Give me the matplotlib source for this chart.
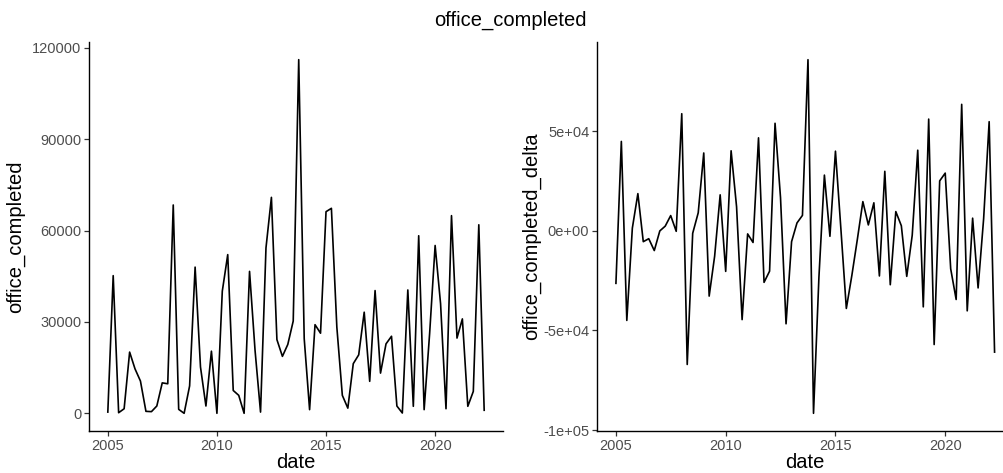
import numpy as np
import pandas as pd
import matplotlib
matplotlib.use('Agg')
import matplotlib.pyplot as plt
import matplotlib.dates as mdates

plt.rcParams['font.family'] = ['Liberation Sans', 'DejaVu Sans']

# quarterly completions, 2005 Q1 .. 2022 Q2
quarters = pd.date_range('2005-01-01', periods=70, freq='QS')

office_completed = [
    400, 45200, 200, 1500, 20100, 14600, 10600, 650, 550, 2400,
    10000, 9700, 68400, 1300, 0, 9000, 48000, 15200, 2400, 20400,
    0, 40100, 52100, 7500, 5900, 0, 46600, 20700, 400, 54300,
    70900, 24200, 18700, 22600, 30300, 116100, 24500, 1200, 29100, 26300,
    66200, 67300, 28300, 5900, 1700, 16300, 19200, 33200, 10500, 40300,
    13200, 22800, 25300, 2400, 100, 40500, 2300, 58300, 1200, 26200,
    55100, 36000, 1500, 64900, 24700, 31000, 2300, 7200, 61900, 1000,
]

# quarter-on-quarter change
office_completed_delta = [
    -26400, 44800, -45000, 1300, 18600, -5500, -4000, -9950, -100, 2300,
    7600, -300, 58700, -67100, -1300, 9000, 39000, -32800, -12800, 18000,
    -20400, 40100, 12000, -44600, -1600, -5900, 46600, -25900, -20300, 53900,
    16600, -46700, -5500, 3900, 7700, 85800, -91600, -23300, 27900, -2800,
    39900, 1100, -39000, -22400, -4200, 14600, 2900, 14000, -22700, 29800,
    -27100, 9600, 2500, -22900, -2300, 40400, -38200, 56000, -57100, 25000,
    28900, -19100, -34500, 63400, -40200, 6300, -28700, 6000, 54700, -60900,
]

left_ticks = [0, 30000, 60000, 90000, 120000]
left_labels = ['0', '30000', '60000', '90000', '120000']
right_ticks = [-100000, -50000, 0, 50000]
right_labels = ['-1e+05', '-5e+04', '0e+00', '5e+04']


def padded(lo, hi, frac=0.05):
    d = (hi - lo) * frac
    return lo - d, hi + d


def panel(ax, y, ylabel, ticks, labels, ylab_x):
    ax.plot(quarters, y, color='black', lw=1.2)
    ax.set_xlim(padded(mdates.date2num(quarters[0]), mdates.date2num(quarters[-1])))
    ax.set_ylim(padded(min(y), max(y)))
    ax.set_yticks(ticks)
    ax.set_yticklabels(labels)
    ax.xaxis.set_major_locator(mdates.YearLocator(5))
    ax.xaxis.set_major_formatter(mdates.DateFormatter('%Y'))
    for s in ['top', 'right']:
        ax.spines[s].set_visible(False)
    for s in ['left', 'bottom']:
        ax.spines[s].set_linewidth(1.0)
        ax.spines[s].set_color('black')
    ax.tick_params(length=3.5, width=0.9, color='#333333',
                   labelcolor='#4d4d4d', labelsize=10.5, pad=2)
    ax.set_xlabel('date', fontsize=14.5, labelpad=0)
    ax.set_ylabel(ylabel, fontsize=14.5)
    # anchor is the label's right-hand edge once rotated
    ax.yaxis.set_label_coords(ylab_x, 0.5)


fig = plt.figure(figsize=(10.04, 4.73), dpi=100)
W, H = 1004, 473

ax1 = fig.add_axes([89 / W, 42 / H, 414 / W, 389 / H])
panel(ax1, office_completed, 'office_completed', left_ticks, left_labels,
      (25 - 89) / 414)

ax2 = fig.add_axes([597 / W, 42 / H, 416.5 / W, 389 / H])
panel(ax2, office_completed_delta, 'office_completed_delta', right_ticks, right_labels,
      (541 - 597) / 416.5)

fig.text(510 / W, 1 - 20 / H, 'office_completed', ha='center', va='center', fontsize=14.5)

fig.savefig('out.png', dpi=100)
